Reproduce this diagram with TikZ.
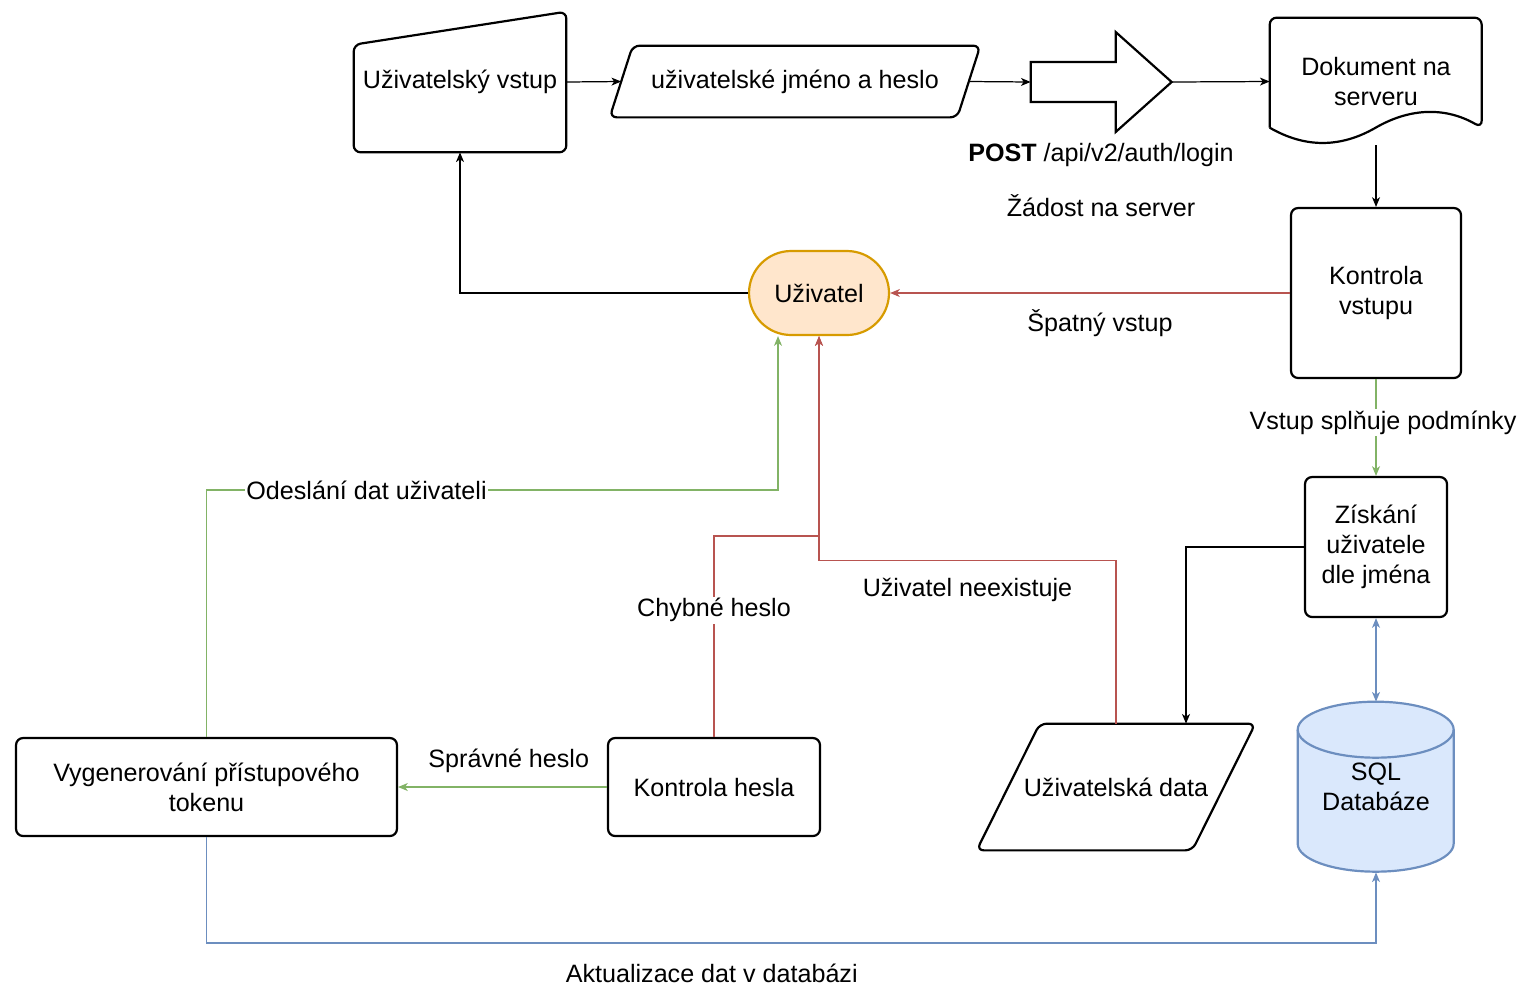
\documentclass[tikz,border=0pt]{standalone}
\usepackage{fontspec}
\setmainfont{Liberation Sans}
\usetikzlibrary{arrows.meta,calc,backgrounds}
\definecolor{xred}{HTML}{B85450}
\definecolor{xgreen}{HTML}{82B366}
\definecolor{xblue}{HTML}{6C8EBF}
\definecolor{orfill}{HTML}{FFE6CC}
\definecolor{ordraw}{HTML}{D79B00}
\definecolor{dbfill}{HTML}{DAE8FC}

\begin{document}
\begin{tikzpicture}[x=0.02cm,y=-0.02cm,font=\fontsize{14.3}{17}\selectfont,
    >={Stealth[length=5.5pt,width=4.5pt,inset=1.5pt]},
    box/.style = {draw, line width=1.25pt, rounded corners=4pt, align=center, inner sep=0pt},
    hidden/.style = {inner sep=0pt, align=center},
    shp/.style = {line width=1.25pt, rounded corners=4pt},
    link/.style = {line width=0.7pt},
    lbl/.style = {fill=white, inner sep=1pt}]
    \useasboundingbox (0,0) rectangle (1523,985);
    \node[hidden, minimum width=4.24cm, minimum height=2.8cm] (vstup) at (460,82) {Uživatelský vstup};
    \draw[shp] (vstup.south west) -- ($(vstup.north west)+(0,33)$) -- (vstup.north east) -- (vstup.south east) -- cycle;
    \node[hidden, minimum width=6.94cm, minimum height=1.42cm] (heslo) at (795,81.5) {uživatelské jméno a heslo};
    \draw[shp] ($(heslo.south west)+(-11.5,0)$) -- ($(heslo.north west)+(11.5,0)$) -- ($(heslo.north east)+(11.5,0)$) -- ($(heslo.south east)+(-11.5,0)$) -- cycle;
    \node[hidden, minimum width=2.82cm, minimum height=2cm] (blok) at (1101.5,82) {};
    \draw[line width=1.25pt, shift={(blok.west)}] (0,-20) -- (85,-20) -- (85,-50) -- (141,0) -- (85,50) -- (85,20) -- (0,20) -- cycle;
    \node (post) at (1101,155) {\textbf{POST} /api/v2/auth/login};
    \node (zadost) at (1101,206) {Žádost na server};
    \node[hidden, minimum width=4.24cm, minimum height=2.54cm] (dokument) at (1376,81.5) {Dokument na\\serveru};
    \draw[line width=1.25pt, shift={(dokument.north west)}] (0,110) [rounded corners=4pt] -- (0,0) -- (212,0) -- (212,110) [sharp corners] .. controls (176.7,89.6) and (141.3,89.6) .. (106,110) .. controls (70.7,130.4) and (35.3,130.4) .. (0,110);
    \node[box, minimum width=3.4cm, minimum height=3.4cm] (kontrolaV) at (1376,293) {Kontrola\\vstupu};
    \node[box, rounded corners=0.84cm, fill=orfill, draw=ordraw, minimum width=2.8cm, minimum height=1.68cm] (uzivatel) at (819,293) {Uživatel};
    \node[box, minimum width=2.84cm, minimum height=2.8cm] (ziskani) at (1376,547) {Získání\\uživatele\\dle jména};
    \node[hidden, minimum width=3.12cm, minimum height=3.4cm] (databaze) at (1376,787) {SQL\\Databáze};
    \begin{scope}[on background layer]
        \draw[line width=1.25pt, draw=xblue, fill=dbfill, shift={(databaze.north west)}] (0,28) -- (0,142) arc (180:360:1.56cm and 0.56cm) -- (156,28) arc (0:180:1.56cm and 0.56cm) -- cycle;
        \draw[line width=1.25pt, draw=xblue, shift={(databaze.north west)}] (0,28) arc (180:360:1.56cm and 0.56cm);
    \end{scope}
    \node[hidden, minimum width=4.3cm, minimum height=2.52cm] (data) at (1116,787) {Uživatelská data};
    \draw[shp] ($(data.south west)+(-31.5,0)$) -- ($(data.north west)+(31.5,0)$) -- ($(data.north east)+(31.5,0)$) -- ($(data.south east)+(-31.5,0)$) -- cycle;
    \node[box, minimum width=4.24cm, minimum height=1.96cm] (hesla) at (714,787) {Kontrola hesla};
    \node[box, minimum width=7.62cm, minimum height=1.96cm] (token) at (206.5,787) {Vygenerování přístupového\\tokenu};
    \draw[link,->] (vstup.east) -- (heslo.west);
    \draw[link,->] (heslo.east) -- (blok.west);
    \draw[link,->] (blok.east) -- (dokument.west);
    \draw[link,->] (dokument.south) -- (kontrolaV.north);
    \draw[link,->,draw=xred] (kontrolaV.west) -- node[pos=0.475, yshift=-0.6cm] {Špatný vstup} (uzivatel.east);
    \draw[link,->] (uzivatel.west) -| (vstup.south);
    \draw[link,->,draw=xgreen] (kontrolaV.south) -- node[lbl, pos=0.45, xshift=0.14cm] {Vstup splňuje podmínky} (ziskani.north);
    \draw[link,->] (ziskani.west) -| ($(data.north)+(70,0)$);
    \draw[link,<->,draw=xblue] (ziskani.south) -- (databaze.north);
    \draw[link,->,draw=xred] (data.north) -- ++(0,-163) -| node[pos=0.25, yshift=-0.58cm] {Uživatel neexistuje} (uzivatel.south);
    \draw[link,->,draw=xred] (hesla.north) -- node[lbl, pos=0.63] {Chybné heslo} ++(0,-201) -| (uzivatel.south);
    \draw[link,->,draw=xgreen] (hesla.west) -- node[pos=0.47, yshift=0.52cm] {Správné heslo} (token.east);
    \draw[link,->,draw=xgreen] (token.north) -- ++(0,-247) -| node[lbl, pos=0.14] {Odeslání dat uživateli} ($(uzivatel.south)+(-41,0)$);
    \draw[link,->,draw=xblue] (token.south) -- ++(0,106) -| node[pos=0.216, yshift=-0.6cm] {Aktualizace dat v databázi} (databaze.south);
\end{tikzpicture}
\end{document}
